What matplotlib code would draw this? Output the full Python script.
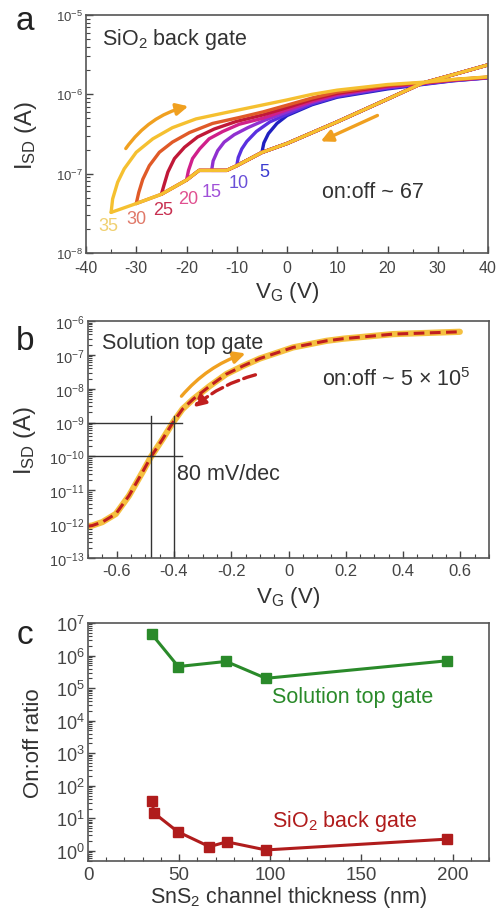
import matplotlib
matplotlib.use("Agg")
import matplotlib.pyplot as plt
from matplotlib.ticker import FixedLocator, LogFormatterSciNotation, MultipleLocator, NullFormatter

plt.rcParams['font.family'] = ['Liberation Sans', 'DejaVu Sans']
plt.rcParams['mathtext.fontset'] = 'custom'
plt.rcParams['mathtext.rm'] = 'Liberation Sans'
plt.rcParams['mathtext.it'] = 'Liberation Sans:italic'
plt.rcParams['axes.unicode_minus'] = False

W, H = 498, 920

# ---- panel a: SiO2 back gate sweeps ----
sweep_ranges = [5, 10, 15, 20, 25, 30, 35]
sweep_colors = ['#2020c0', '#5a30e0', '#9030d0', '#d0208a',
                '#c01838', '#e05a28', '#f5c030']
label_colors = ['#3a3ad0', '#6a50d8', '#a050d8', '#e05090',
                '#c83050', '#e07868', '#f0d070']
label_v = [-4.6, -9.7, -15.0, -19.7, -24.7, -30.0, -35.6]
label_i = [1.07e-7, 7.8e-8, 6.0e-8, 4.8e-8, 3.5e-8, 2.75e-8, 2.2e-8]

# reverse sweep (shared by all loops)
lower_v = [40, 33.5, 26.9, 20, 10, 0, -5, -10, -12, -15, -17.5, -20, -25, -30, -35]
lower_i = [2.35e-6, 1.8e-6, 1.38e-6, 8.7e-7, 4.5e-7, 2.4e-7, 1.85e-7, 1.26e-7,
           1.1e-7, 1.1e-7, 1.1e-7, 8.3e-8, 5.5e-8, 4.2e-8, 3.25e-8]

# forward sweeps, one per loop
upper_v = {
    5: [-5, -4.6, -3.7, -2.0, 0, 5, 10, 20, 27, 33, 40],
    10: [-10, -9.7, -9.0, -8.0, -6.1, -3.4, 0, 5, 10, 20, 27, 33, 40],
    15: [-15, -14.7, -13.8, -12.5, -10.5, -7.8, -4.5, 0, 5, 10, 20, 27, 33, 40],
    20: [-20, -19.6, -18.8, -17.4, -15.5, -12.8, -9.5, -4.8, 0, 5, 10, 20, 27, 33, 40],
    25: [-25, -24.5, -23.7, -22.4, -20.4, -17.8, -14.5, -10.1, -4.8, 0, 5, 10, 20,
         27, 33, 40],
    30: [-30, -29.5, -28.7, -27.4, -25.4, -22.8, -19.4, -14.8, -9.5, -4.8, 0, 5, 10,
         20, 27, 33, 40],
    35: [-35, -34.7, -33.7, -32.4, -30.0, -26.7, -22.8, -18.1, -12.1, -5.5, 0, 5, 10,
         20, 27, 33, 40],
}
upper_i = {
    5: [1.85e-7, 2.45e-7, 3.2e-7, 4.3e-7, 5.4e-7, 7.4e-7, 9.2e-7, 1.17e-6,
        1.33e-6, 1.48e-6, 1.61e-6],
    10: [1.26e-7, 1.6e-7, 2.05e-7, 2.55e-7, 3.4e-7, 4.5e-7, 5.6e-7, 7.6e-7,
         9.4e-7, 1.2e-6, 1.35e-6, 1.49e-6, 1.62e-6],
    15: [1.1e-7, 1.45e-7, 1.95e-7, 2.5e-7, 3.1e-7, 3.8e-7, 4.7e-7, 6.0e-7,
         7.9e-7, 9.7e-7, 1.22e-6, 1.36e-6, 1.5e-6, 1.62e-6],
    20: [8.3e-8, 1.1e-7, 1.55e-7, 2.05e-7, 2.75e-7, 3.4e-7, 4.2e-7, 5.0e-7,
         6.4e-7, 8.2e-7, 1.0e-6, 1.25e-6, 1.38e-6, 1.51e-6, 1.63e-6],
    25: [5.5e-8, 7.1e-8, 1.05e-7, 1.55e-7, 2.15e-7, 2.9e-7, 3.65e-7, 4.55e-7,
         5.5e-7, 6.8e-7, 8.6e-7, 1.03e-6, 1.28e-6, 1.39e-6, 1.52e-6, 1.64e-6],
    30: [4.2e-8, 5.8e-8, 8.5e-8, 1.26e-7, 1.86e-7, 2.5e-7, 3.3e-7, 4.3e-7,
         5.1e-7, 6.0e-7, 7.3e-7, 9.0e-7, 1.07e-6, 1.3e-6, 1.4e-6, 1.53e-6, 1.65e-6],
    35: [3.25e-8, 4.8e-8, 7.8e-8, 1.15e-7, 1.86e-7, 2.75e-7, 3.8e-7, 4.9e-7,
         5.9e-7, 7.2e-7, 8.5e-7, 1.0e-6, 1.13e-6, 1.33e-6, 1.42e-6, 1.54e-6, 1.66e-6],
}

# ---- panel b: solution top gate transfer curve ----
top_v = [-0.7, -0.685, -0.65, -0.603, -0.557, -0.510, -0.481, -0.440, -0.403,
         -0.370, -0.333, -0.275, -0.217, -0.159, -0.1, 0.016, 0.133, 0.191,
         0.365, 0.598]
top_i = [8.7e-13, 9.1e-13, 1.15e-12, 2.0e-12, 6.9e-12, 3.4e-11, 9.5e-11,
         3.2e-10, 1.02e-9, 2.5e-9, 4.9e-9, 1.2e-8, 2.7e-8, 4.7e-8, 7.8e-8,
         1.66e-7, 2.6e-7, 3.0e-7, 4.1e-7, 4.8e-7]
guide_i = [1e-9, 1e-10]
guide_v = [-0.48, -0.40]

# ---- panel c: on/off ratio vs thickness ----
top_thick = [34.9, 49.5, 75.8, 97.6, 196.9]
top_ratio = [4.6e6, 4.6e5, 6.6e5, 2.0e5, 6.9e5]
back_thick = [34.9, 36.3, 49.2, 66.6, 76.1, 97.6, 196.9]
back_ratio = [35, 14.5, 3.9, 1.35, 1.9, 1.07, 2.3]

TXT = '#333333'
ORANGE = '#f0a020'
GREEN = '#2a8a2a'
RED = '#b01c1c'
HEAD = '-|>,head_length=0.7,head_width=0.35'


def px(x, y):
    """pixel position (from top left) to figure fraction"""
    return x / W, 1 - y / H


def add_axes(fig, left, top, right, bottom):
    x0, y0 = px(left, bottom)
    ax = fig.add_axes([x0, y0, (right - left) / W, (bottom - top) / H])
    for s in ax.spines.values():
        s.set_color('#555555')
        s.set_linewidth(1.2)
    ax.tick_params(which='both', direction='in', colors='#444444',
                   top=False, right=False)
    ax.tick_params(which='major', length=5, width=1)
    ax.tick_params(which='minor', length=3, width=0.8)
    return ax


def log_y(ax, lo, hi, first_exp, last_exp, size):
    """log y axis with only the decades that lie inside the limits"""
    ax.set_yscale('log')
    ax.set_ylim(lo, hi)
    majors = [10.0 ** e for e in range(first_exp, last_exp + 1)]
    minors = [m * 10.0 ** e for e in range(first_exp - 1, last_exp)
              for m in range(2, 10) if lo <= m * 10.0 ** e <= hi]
    ax.yaxis.set_major_locator(FixedLocator(majors))
    ax.yaxis.set_major_formatter(LogFormatterSciNotation())
    ax.yaxis.set_minor_locator(FixedLocator(minors))
    ax.yaxis.set_minor_formatter(NullFormatter())
    ax.tick_params(axis='y', labelsize=size, pad=2.5)


fig = plt.figure(figsize=(W / 100, H / 100), dpi=100)

# panel a
ax = add_axes(fig, 86, 16, 488, 254)
for k, c in zip(sweep_ranges, sweep_colors):
    lv = [v for v in lower_v if v >= -k]
    li = lower_i[:len(lv)]
    ax.plot(lv, li, color=c, lw=2.4, solid_joinstyle='round', solid_capstyle='round')
    ax.plot(upper_v[k], upper_i[k], color=c, lw=2.4, solid_joinstyle='round',
            solid_capstyle='round')
for k, c, v, i in zip(sweep_ranges, label_colors, label_v, label_i):
    ax.text(v, i, str(k), color=c, fontsize=13, ha='center', va='center')
ax.annotate('', xy=(-19.1, 7.2e-7), xytext=(-32.4, 1.94e-7),
            arrowprops=dict(arrowstyle=HEAD, color=ORANGE, lw=2.4,
                            connectionstyle='arc3,rad=-0.2'))
ax.annotate('', xy=(6.2, 2.47e-7), xytext=(18.5, 5.6e-7),
            arrowprops=dict(arrowstyle=HEAD, color=ORANGE, lw=2.4))
ax.set_xlim(-40, 40)
ax.xaxis.set_major_locator(MultipleLocator(10))
ax.xaxis.set_minor_locator(MultipleLocator(5))
ax.tick_params(axis='x', labelsize=11.5, pad=5)
log_y(ax, 1e-8, 1e-5, -8, -5, 9.5)
ax.set_xlabel('V$_\\mathrm{G}$ (V)', fontsize=16, color=TXT)
ax.set_ylabel('I$_\\mathrm{SD}$ (A)', fontsize=17, color=TXT)
ax.xaxis.set_label_coords(0.5, -0.11)
ax.yaxis.set_label_coords(-0.118, 0.5)

# panel b
bx = add_axes(fig, 88, 322, 489, 559)
bx.plot(top_v, top_i, color='#f5c040', lw=4.5, solid_capstyle='round')
bx.plot(top_v, top_i, color='#c01e1e', lw=2.2, ls=(0, (3.5, 1.8)))
for g in guide_i:
    bx.plot([-0.7, -0.373], [g, g], color='#333333', lw=1)
for g in guide_v:
    bx.plot([g, g], [1e-13, 1.6e-9], color='#333333', lw=1)
bx.annotate('', xy=(-0.141, 1.17e-7), xytext=(-0.38, 5.2e-9),
            arrowprops=dict(arrowstyle=HEAD, color=ORANGE, lw=2.4,
                            connectionstyle='arc3,rad=-0.15'))
bx.annotate('', xy=(-0.339, 2.5e-9), xytext=(-0.106, 2.7e-8),
            arrowprops=dict(arrowstyle=HEAD, color='#c01e1e', lw=2.4, ls='--',
                            connectionstyle='arc3,rad=0.12'))
bx.set_xlim(-0.7, 0.7)
bx.xaxis.set_minor_locator(MultipleLocator(0.05))
bx.set_xticks([-0.6, -0.4, -0.2, 0, 0.2, 0.4, 0.6])
bx.set_xticklabels(['-0.6', '-0.4', '-0.2', '0', '0.2', '0.4', '0.6'])
bx.tick_params(axis='x', labelsize=12)
log_y(bx, 1e-13, 1e-6, -13, -6, 10.5)
bx.set_xlabel('V$_\\mathrm{G}$ (V)', fontsize=16, color=TXT)
bx.set_ylabel('I$_\\mathrm{SD}$ (A)', fontsize=17, color=TXT)
bx.xaxis.set_label_coords(0.5, -0.11)
bx.yaxis.set_label_coords(-0.125, 0.5)

# panel c
cx = add_axes(fig, 88, 624, 489, 862)
cx.plot(top_thick, top_ratio, color=GREEN, lw=2.2, marker='s', ms=7.5)
cx.plot(back_thick, back_ratio, color=RED, lw=2.2, marker='s', ms=7.5)
cx.set_xlim(0, 220)
cx.xaxis.set_major_locator(MultipleLocator(50))
cx.xaxis.set_minor_locator(MultipleLocator(10))
cx.tick_params(axis='x', labelsize=13.5)
log_y(cx, 0.49, 1e7, 0, 7, 13)
cx.set_xlabel('SnS$_2$ channel thickness (nm)', fontsize=15.5, color=TXT)
cx.set_ylabel('On:off ratio', fontsize=16, color=TXT)
cx.xaxis.set_label_coords(0.5, -0.095)
cx.yaxis.set_label_coords(-0.11, 0.5)

# panel letters and annotations
for letter, (x, y) in zip('abc', [(25, 22), (25, 341), (25, 636)]):
    fig.text(*px(x, y), letter, fontsize=24, ha='center', va='center', color='#222222')
fig.text(*px(102, 40), 'SiO$_2$ back gate', fontsize=15.5, va='center', color=TXT)
fig.text(*px(322, 193), 'on:off ~ 67', fontsize=15.5, va='center', color=TXT)
fig.text(*px(102, 343), 'Solution top gate', fontsize=15.5, va='center', color=TXT)
fig.text(*px(322, 380), 'on:off ~ 5 \u00d7 10$^5$', fontsize=15.5, va='center', color=TXT)
fig.text(*px(177, 475), '80 mV/dec', fontsize=15.5, va='center', color=TXT)
fig.text(*px(272, 698), 'Solution top gate', fontsize=15.5, va='center', color=GREEN)
fig.text(*px(272, 822), 'SiO$_2$ back gate', fontsize=15.5, va='center', color=RED)

fig.savefig('out.png', dpi=100)
